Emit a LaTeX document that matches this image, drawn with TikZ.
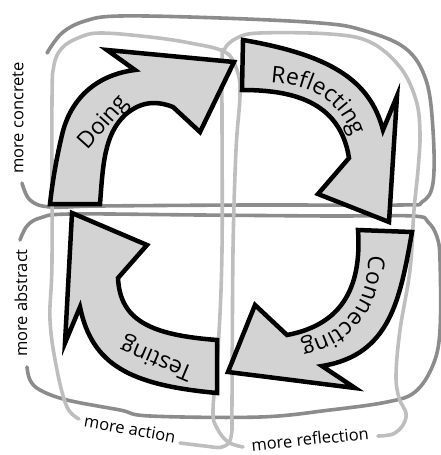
\documentclass[tikz,border=0pt]{standalone}
\usepackage{fontspec}
\setmainfont{Open Sans}
\usetikzlibrary{decorations.text}
\definecolor{darkloop}{HTML}{8C8C8C}
\definecolor{lightloop}{HTML}{BEBEBE}
\definecolor{arrowfill}{HTML}{D3D3D3}
\newcommand\bigtxt{\fontsize{23}{23}\selectfont}
\newcommand\smalltxt{\fontsize{16.5}{16.5}\selectfont}
\tikzset{
  darkline/.style={draw=darkloop, line width=3.6pt, line cap=round, line join=round},
  lightline/.style={draw=lightloop, line width=3.6pt, line cap=round, line join=round},
  cyclearrow/.style={draw=black, fill=arrowfill, line width=4.5pt, line join=miter},
  looplabel/.style={font=\smalltxt, inner sep=0pt},
  arrowlabel/.style={font=\bigtxt, inner sep=0pt},
}
\begin{document}
\begin{tikzpicture}[x=1pt,y=-1pt]
\useasboundingbox (0,0) rectangle (441,455);
% loops
\draw[darkline] plot[smooth, tension=0.6] coordinates {(47,53) (62,33) (85,21) (120,16) (220,18) (320,23) (362,30) (405,48) (426,80) (433,130) (433,183) (422,202) (400,205) (250,205) (100,206) (50,207) (30,200) (22,183)};
\draw[darkline] plot[smooth, tension=0.6] coordinates {(20,240) (27,226) (40,218) (70,214) (200,215) (330,216) (413,216) (428,222) (437,237) (440,260) (440,330) (433,365) (415,392) (387,402) (330,410) (260,417) (150,416) (120,410) (67,400) (40,390) (30,380) (27,367)};
\draw[lightline] plot[smooth, tension=0.6] coordinates {(180,443) (205,446) (222,447) (231,437) (232,400) (233,250) (236,150) (240,95) (237,70) (225,52) (190,43) (150,37) (100,33) (78,38) (62,48) (54,65) (52,100) (52,260) (50,320) (57,370) (67,407) (79,419)};
\draw[lightline] plot[smooth, tension=0.6] coordinates {(378,436) (393,434) (403,425) (406,413) (399,398) (396,375) (400,330) (410,270) (414,210) (418,170) (420,133) (416,100) (400,67) (370,42) (330,34) (260,33) (237,38) (224,50) (222,70) (222,250) (218,350) (213,410) (217,428) (228,442) (243,447)};
% arrows
\path[cyclearrow] (50,204) -- (100,204)
  .. controls (103,165) and (104,135) .. (125,115)
  .. controls (140,102) and (155,100) .. (173,107)
  -- (200,132) -- (234,62) -- (107,50) -- (135,70)
  .. controls (95,75) and (70,100) .. (62,135)
  .. controls (56,160) and (52,185) .. cycle;
\path[cyclearrow] (243,40) -- (242,90)
  .. controls (290,90) and (340,100) .. (349,158)
  -- (318,194) -- (389,222) -- (397,96) -- (383,130)
  .. controls (370,80) and (330,55) .. cycle;
\path[cyclearrow] (358,230) -- (412,232)
  .. controls (400,300) and (390,355) .. (322,366)
  -- (355,388) -- (228,372) -- (255,305) -- (287,335)
  .. controls (340,325) and (362,290) .. cycle;
\path[cyclearrow] (217,393)
  .. controls (130,385) and (92,365) .. (80,307)
  -- (65,343) -- (72,213) -- (147,245) -- (118,278)
  .. controls (120,320) and (150,335) .. (217,340) -- cycle;
% arrow labels
\node[arrowlabel, rotate=48] (doing) at (104,123) {Doing};
\node[arrowlabel, rotate=157] (testing) at (157,358) {Testing};
\path[decorate, decoration={text along path, text={|\bigtxt|Reflecting}, text align=center}]
  (262,82) .. controls (315,82) and (345,105) .. (355,145);
\path[decorate, decoration={text along path, text={|\bigtxt|Connecting}, text align=center}]
  (368,240) .. controls (372,300) and (350,338) .. (285,345);
% loop labels
\node[looplabel, rotate=90] (concrete) at (18,118) {more concrete};
\node[looplabel, rotate=90] (abstract) at (21,303) {more abstract};
\node[looplabel, rotate=-10] (action) at (130,429) {more action};
\node[looplabel, rotate=6] (reflection) at (310,439) {more reflection};
\end{tikzpicture}
\end{document}
